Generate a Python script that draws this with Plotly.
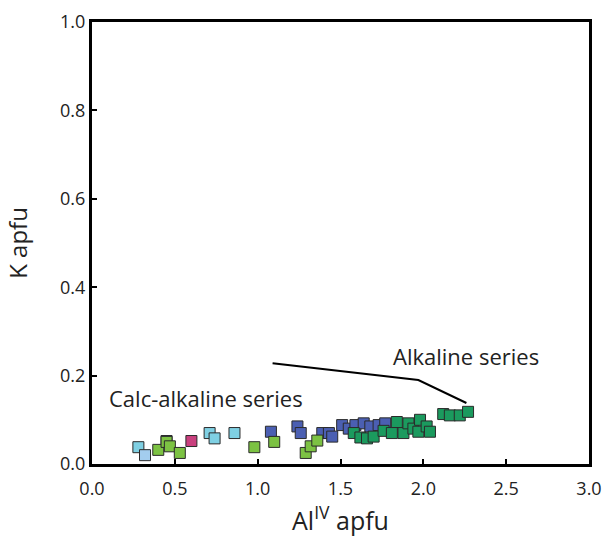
import plotly.graph_objects as go

# Data (Al IV apfu, K apfu) grouped by colour
cyan_x = [0.28, 0.45, 0.71, 0.74, 0.86]
cyan_y = [0.038, 0.052, 0.070, 0.058, 0.070]
lightblue_x = [0.32]
lightblue_y = [0.020]
pink_x = [0.60]
pink_y = [0.052]
lime_x = [0.40, 0.45, 0.47, 0.53, 0.98, 1.10, 1.29, 1.32, 1.36]
lime_y = [0.032, 0.050, 0.040, 0.025, 0.038, 0.050, 0.025, 0.040, 0.053]
blue_x = [1.08, 1.24, 1.26, 1.39, 1.43, 1.45, 1.51, 1.55, 1.59, 1.64, 1.68, 1.73, 1.77]
blue_y = [0.073, 0.085, 0.070, 0.070, 0.070, 0.062, 0.088, 0.080, 0.088, 0.092, 0.085, 0.088, 0.092]
teal_x = [1.58, 1.62, 1.66, 1.70, 1.76, 1.81, 1.84, 1.88, 1.91, 1.94, 1.97, 1.98, 2.02, 2.04,
          2.12, 2.16, 2.22, 2.27]
teal_y = [0.070, 0.060, 0.058, 0.062, 0.075, 0.070, 0.095, 0.070, 0.092, 0.080, 0.073, 0.100,
          0.085, 0.073, 0.113, 0.110, 0.110, 0.118]

# Annotation leader line (data coords)
leader_x = [1.09, 1.97, 2.26]
leader_y = [0.228, 0.190, 0.138]

x_ticks = [0, 0.5, 1.0, 1.5, 2.0, 2.5, 3.0]
x_labels = ["0.0", "0.5", "1.0", "1.5", "2.0", "2.5", "3.0"]
y_ticks = [0, 0.2, 0.4, 0.6, 0.8, 1.0]
y_labels = ["0.0", "0.2", "0.4", "0.6", "0.8", "1.0"]

fig = go.Figure()

def add(xs, ys, color):
    fig.add_trace(go.Scatter(
        x=xs, y=ys, mode="markers",
        marker=dict(symbol="square", size=11, color=color,
                    line=dict(color="#2a2a2a", width=1)),
        showlegend=False, hoverinfo="skip"))

add(cyan_x, cyan_y, "#7fd0e3")
add(lightblue_x, lightblue_y, "#a3cdee")
add(pink_x, pink_y, "#c9407e")
add(blue_x, blue_y, "#4b5fb2")
add(teal_x, teal_y, "#1b9a5e")
add(lime_x, lime_y, "#7cc243")

fig.add_trace(go.Scatter(x=leader_x, y=leader_y, mode="lines",
                         line=dict(color="black", width=2),
                         showlegend=False, hoverinfo="skip"))

font_family = "Open Sans, Liberation Sans, sans-serif"
txt = "#222"

fig.add_annotation(x=2.26, y=0.245, text="Alkaline series", showarrow=False,
                   font=dict(size=22, color=txt, family=font_family))
fig.add_annotation(x=0.69, y=0.150, text="Calc-alkaline series", showarrow=False,
                   font=dict(size=22, color=txt, family=font_family))

axis_common = dict(showgrid=False, zeroline=False, showline=True, linecolor="black",
                   linewidth=3, mirror=True, ticks="inside", ticklen=5, tickwidth=2,
                   tickcolor="black", automargin=False,
                   tickfont=dict(size=18, color=txt, family=font_family))

fig.update_xaxes(range=[0, 3.0], tickvals=x_ticks, ticktext=x_labels, ticklabelstandoff=6,
                 title=dict(text="Al<sup>IV</sup> apfu", font=dict(size=25, color=txt, family=font_family),
                            standoff=14),
                 **axis_common)
fig.update_yaxes(range=[0, 1.0], tickvals=y_ticks, ticktext=y_labels,
                 title=dict(text="K apfu", font=dict(size=24, color=txt, family=font_family),
                            standoff=26),
                 **axis_common)

fig.update_layout(width=607, height=546, margin=dict(l=92, r=18, t=22, b=82),
                  plot_bgcolor="white", paper_bgcolor="white")

fig.write_html("out.html")
